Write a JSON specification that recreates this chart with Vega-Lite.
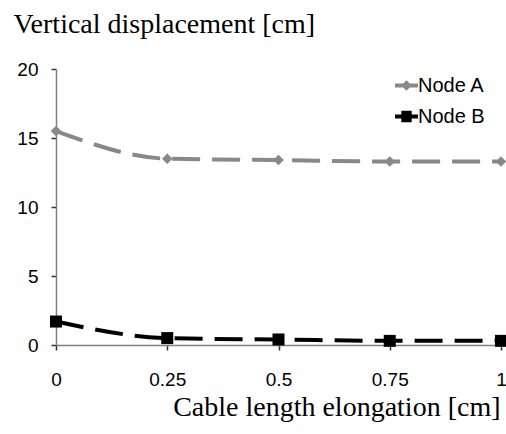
{
  "$schema": "https://vega.github.io/schema/vega-lite/v6.json",
  "autosize": "none",
  "width": 445,
  "height": 276,
  "padding": {"left": 56, "top": 69, "right": 5, "bottom": 89},
  "background": "white",
  "config": {
    "view": {"stroke": null},
    "axis": {
      "labelFont": "Liberation Sans",
      "labelFontSize": 19,
      "labelColor": "black",
      "titleFont": "Liberation Serif",
      "titleFontSize": 28,
      "titleFontWeight": "normal",
      "titleColor": "black",
      "domainColor": "#808080",
      "domainWidth": 1.5,
      "tickColor": "#333",
      "tickWidth": 1.5,
      "tickSize": 5,
      "grid": false
    }
  },
  "data": {
    "values": [
      {"x": 0, "y": 15.5, "node": "Node A"},
      {"x": 0.25, "y": 13.5, "node": "Node A"},
      {"x": 0.5, "y": 13.4, "node": "Node A"},
      {"x": 0.75, "y": 13.3, "node": "Node A"},
      {"x": 1, "y": 13.3, "node": "Node A"},
      {"x": 0, "y": 1.7, "node": "Node B"},
      {"x": 0.25, "y": 0.5, "node": "Node B"},
      {"x": 0.5, "y": 0.4, "node": "Node B"},
      {"x": 0.75, "y": 0.3, "node": "Node B"},
      {"x": 1, "y": 0.3, "node": "Node B"}
    ]
  },
  "encoding": {
    "x": {
      "field": "x", "type": "quantitative",
      "scale": {"domain": [0, 1], "nice": false, "zero": false},
      "axis": {
        "values": [0, 0.25, 0.5, 0.75, 1],
        "labelExpr": "'' + datum.value",
        "labelPadding": 20,
        "labelFlush": false,
        "title": "Cable length elongation [cm]",
        "titleX": 444, "titleY": 70,
        "titleAlign": "right", "titleBaseline": "alphabetic", "titleAnchor": null
      }
    },
    "y": {
      "field": "y", "type": "quantitative",
      "scale": {"domain": [0, 20], "nice": false},
      "axis": {
        "values": [0, 5, 10, 15, 20],
        "labelPadding": 13,
        "title": "Vertical displacement [cm]",
        "titleAngle": 0,
        "titleX": -43, "titleY": -37,
        "titleAlign": "left", "titleBaseline": "alphabetic", "titleAnchor": null
      }
    },
    "color": {
      "field": "node", "type": "nominal",
      "scale": {"domain": ["Node A", "Node B"], "range": ["#888888", "#000000"]},
      "legend": {
        "title": null,
        "orient": "none",
        "legendX": 339,
        "legendY": 5,
        "labelFont": "Liberation Sans",
        "labelFontSize": 20,
        "labelColor": "black",
        "labelOffset": 0,
        "symbolSize": 529,
        "rowPadding": 9,
        "encode": {
          "symbols": {
            "update": {
              "shape": {"signal": "datum.value === 'Node A' ? 'M-1,-0.17H1V0.17H-1Z M0,-0.45L0.45,0L0,0.45L-0.45,0Z' : 'M-1,-0.17H1V0.17H-1Z M-0.45,-0.5H0.45V0.5H-0.45Z'"},
              "fill": {"signal": "datum.value === 'Node A' ? '#888888' : '#000000'"},
              "fillOpacity": {"value": 1},
              "strokeWidth": {"value": 0},
              "opacity": {"value": 1}
            }
          }
        }
      }
    }
  },
  "layer": [
    {
      "mark": {"type": "line", "interpolate": "monotone", "strokeWidth": 4, "strokeDash": [28, 12]}
    },
    {
      "transform": [{"filter": "datum.node === 'Node A'"}],
      "mark": {"type": "point", "filled": true, "opacity": 1, "shape": "diamond", "size": 110}
    },
    {
      "transform": [{"filter": "datum.node === 'Node B'"}],
      "mark": {"type": "point", "filled": true, "opacity": 1, "shape": "square", "size": 144}
    }
  ]
}
